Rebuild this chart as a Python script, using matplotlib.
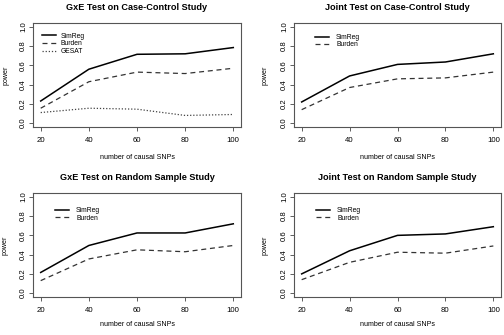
import matplotlib
matplotlib.use("Agg")
import matplotlib.pyplot as plt

plt.rcParams['font.family'] = ['Liberation Sans', 'DejaVu Sans']

n_causal = [20, 40, 60, 80, 100]

gxe_cc_simreg = [0.23, 0.56, 0.715, 0.72, 0.785]
gxe_cc_burden = [0.155, 0.43, 0.53, 0.515, 0.57]
gxe_cc_gesat = [0.11, 0.155, 0.145, 0.08, 0.09]

joint_cc_simreg = [0.22, 0.49, 0.61, 0.635, 0.72]
joint_cc_burden = [0.14, 0.37, 0.46, 0.47, 0.53]

gxe_rs_simreg = [0.215, 0.495, 0.625, 0.625, 0.72]
gxe_rs_burden = [0.13, 0.355, 0.45, 0.43, 0.495]

joint_rs_simreg = [0.20, 0.44, 0.60, 0.615, 0.69]
joint_rs_burden = [0.14, 0.32, 0.425, 0.415, 0.49]

titles = ["GxE Test on Case-Control Study", "Joint Test on Case-Control Study",
          "GxE Test on Random Sample Study", "Joint Test on Random Sample Study"]

W, H = 504, 335
fig = plt.figure(figsize=(W / 100, H / 100), dpi=100)


def make_ax(left, top, right, bottom):
    return fig.add_axes([left / W, 1 - bottom / H, (right - left) / W, (bottom - top) / H])


def style(ax, title, leg_xy, xlab_y, ylab_x, textpad):
    ax.set_xlim(16.8, 103.2)
    ax.set_ylim(-0.04, 1.04)
    ax.set_xticks(n_causal)
    ax.set_yticks([0.0, 0.2, 0.4, 0.6, 0.8, 1.0])
    ax.set_yticklabels(["0.0", "0.2", "0.4", "0.6", "0.8", "1.0"], rotation=90, va="center")
    ax.tick_params(labelsize=5.6, length=2.9, width=0.6, color="#444444")
    ax.tick_params(axis="x", pad=4.6)
    ax.tick_params(axis="y", pad=1.5)
    for s in ax.spines.values():
        s.set_color("#555555")
        s.set_linewidth(0.8)
    ax.set_title(title, fontsize=6.6, fontweight="bold", y=1.15, pad=0, va="center")
    ax.set_xlabel("number of causal SNPs", fontsize=5.1, va="center")
    ax.xaxis.set_label_coords(0.5, xlab_y)
    ax.set_ylabel("power", fontsize=5.1, va="center")
    ax.yaxis.set_label_coords(ylab_x, 0.5)
    ax.legend(loc="upper left", bbox_to_anchor=leg_xy, frameon=False, fontsize=4.9,
              handlelength=2.1, handletextpad=textpad, labelspacing=0.08, borderpad=0,
              borderaxespad=0)


ax1 = make_ax(33, 23, 241, 127)
ax1.plot(n_causal, gxe_cc_simreg, color="black", lw=1.1, label="SimReg")
ax1.plot(n_causal, gxe_cc_burden, color="#333333", lw=0.9, ls=(0, (4, 3)), label="Burden")
ax1.plot(n_causal, gxe_cc_gesat, color="#444444", lw=0.9, ls=(0, (1, 1.5)), label="GESAT")
style(ax1, titles[0], (0.043, 0.905), -0.298, -0.13, 0.7)

ax2 = make_ax(294, 23, 501, 127)
ax2.plot(n_causal, joint_cc_simreg, color="black", lw=1.1, label="SimReg")
ax2.plot(n_causal, joint_cc_burden, color="#333333", lw=0.9, ls=(0, (4, 3)), label="Burden")
style(ax2, titles[1], (0.101, 0.895), -0.298, -0.14, 1.0)

ax3 = make_ax(33, 193, 241, 297)
ax3.plot(n_causal, gxe_rs_simreg, color="black", lw=1.1, label="SimReg")
ax3.plot(n_causal, gxe_rs_burden, color="#333333", lw=0.9, ls=(0, (4, 3)), label="Burden")
style(ax3, titles[2], (0.106, 0.865), -0.26, -0.135, 1.0)

ax4 = make_ax(294, 193, 501, 297)
ax4.plot(n_causal, joint_rs_simreg, color="black", lw=1.1, label="SimReg")
ax4.plot(n_causal, joint_rs_burden, color="#333333", lw=0.9, ls=(0, (4, 3)), label="Burden")
style(ax4, titles[3], (0.106, 0.865), -0.26, -0.14, 1.0)

fig.savefig("out.png", dpi=100)
